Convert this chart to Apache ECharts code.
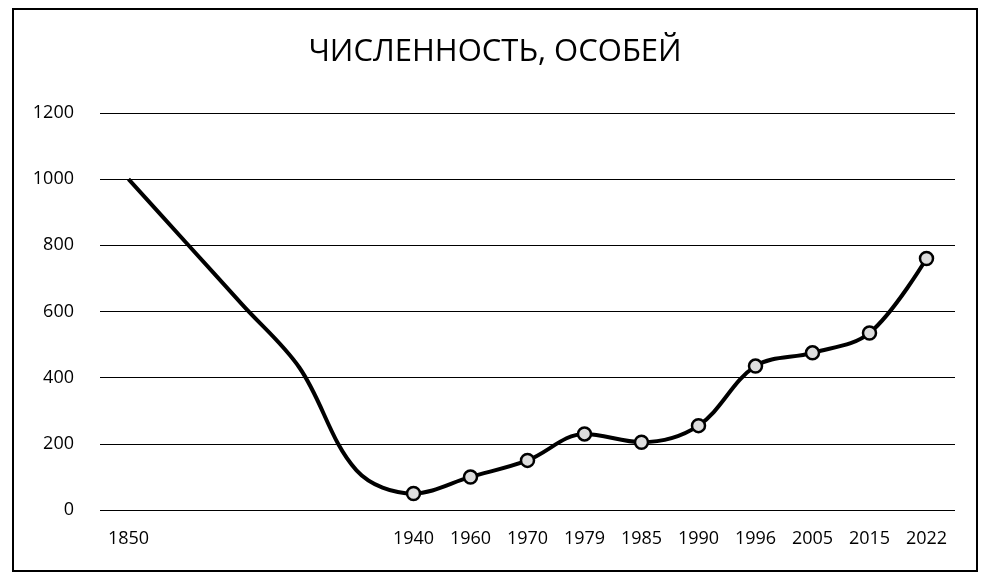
<!DOCTYPE html>
<html><head><meta charset="utf-8">
<script src="https://cdn.jsdelivr.net/npm/echarts@6/dist/echarts.min.js"></script>
<style>body{margin:0;background:#fff}#c{width:990px;height:581px;box-sizing:border-box}#f{position:absolute;left:12px;top:8px;width:966px;height:564px;border:2px solid #000;box-sizing:border-box}</style>
</head><body><div id="f"></div><div id="c"></div>
<script>
const categories=['1850','','','','','1940','1960','1970','1979','1985','1990','1996','2005','2015','2022'];
const values=[1000,810,620,430,120,50,100,150,230,205,255,435,475,535,760];
const markerFrom=5;
const yTicks=[0,200,400,600,800,1000,1200];
const chart=echarts.init(document.getElementById('c'));
chart.setOption({
 animation:false,
 title:{text:'ЧИСЛЕННОСТЬ, ОСОБЕЙ',left:'center',top:32,textStyle:{fontFamily:'Open Sans',fontSize:31,fontWeight:'normal',color:'#000'}},
 grid:{left:100,right:35,top:113,bottom:71},
 xAxis:{type:'category',data:categories,boundaryGap:true,axisLine:{show:false},axisTick:{show:false},
  axisLabel:{color:'#000',fontSize:18,fontFamily:'Open Sans',margin:20}},
 yAxis:{type:'value',min:0,max:1200,interval:200,axisLabel:{color:'#000',fontSize:18,fontFamily:'Open Sans',margin:26,formatter:v=>yTicks.includes(v)?String(v):''},
  splitLine:{lineStyle:{color:'#000',width:1.2}},axisLine:{show:false}},
 series:[{type:'line',smooth:0.35,data:values.map((v,i)=>({value:v,symbol:i>=markerFrom?'circle':'none'})),
  symbolSize:13,lineStyle:{color:'#000',width:4},itemStyle:{color:'#ddd',borderColor:'#000',borderWidth:2.5}}]
});
</script></body></html>
